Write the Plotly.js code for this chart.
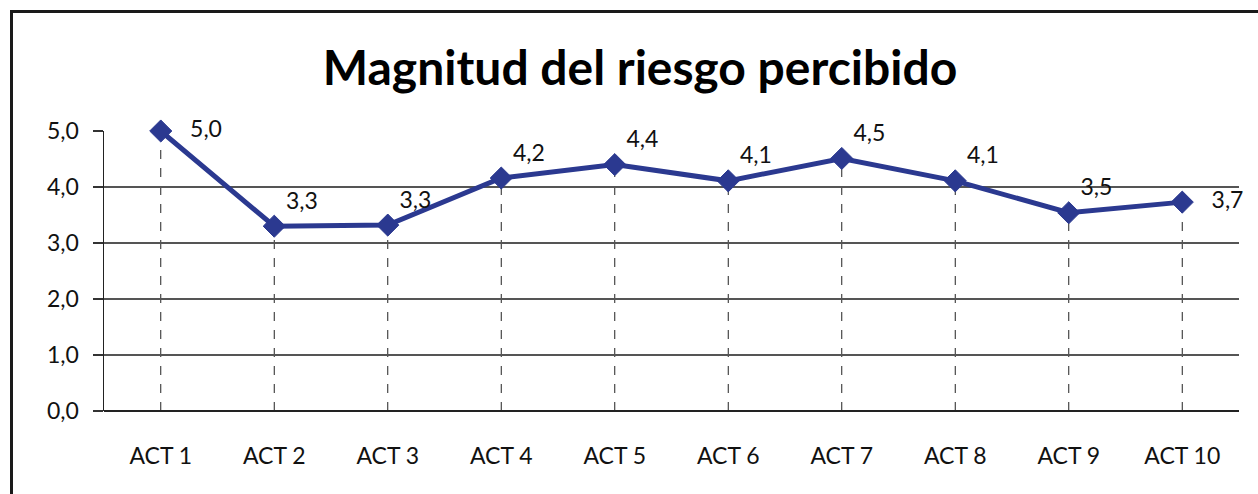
<!DOCTYPE html>
<html>
<head>
<meta charset="utf-8">
<script src="https://cdn.plot.ly/plotly-3.0.1.min.js"></script>
<style>
  html, body { margin:0; padding:0; background:#fff; }
  #wrap { position:relative; width:1258px; height:494px; overflow:hidden; }
  #chart { position:absolute; left:0; top:0; width:1258px; height:494px; }
  #frame { position:absolute; left:10px; top:10px; width:1300px; height:600px;
           border-left:3px solid #1a1a1a; border-top:3px solid #1a1a1a; pointer-events:none; }
</style>
</head>
<body>
<div id="wrap"><div id="chart"></div><div id="frame"></div></div>
<script>
const chartTitle = "Magnitud del riesgo percibido";
const categories = ["ACT 1","ACT 2","ACT 3","ACT 4","ACT 5","ACT 6","ACT 7","ACT 8","ACT 9","ACT 10"];
const values = [5.0, 3.3, 3.32, 4.16, 4.4, 4.11, 4.51, 4.11, 3.54, 3.73];
const labelPositions = ["middle right","top right","top right","top right","top right","top right","top right","top right","top right","middle right"];
const yTicks = [0, 1, 2, 3, 4, 5];

const FONT = "Lato, 'Open Sans', sans-serif";
const navy = "#2B3990";

const dropLines = categories.map((c, i) => ({
  type: "line", xref: "x", yref: "y",
  x0: c, x1: c, y0: 0, y1: values[i],
  line: { color: "#222", width: 1, dash: "dash" }, layer: "below"
}));

const labelTemplates = labelPositions.map(p => p === "middle right" ? "   %{y:.1f}" : "%{y:.1f}");

const trace = {
  type: "scatter", mode: "lines+markers+text",
  x: categories, y: values,
  line: { color: navy, width: 5 },
  marker: { symbol: "diamond", size: 17, color: navy, line: { color: navy, width: 1 } },
  texttemplate: labelTemplates,
  textposition: labelPositions,
  textfont: { family: FONT, size: 23, color: "#111" },
  cliponaxis: false,
  hoverinfo: "skip"
};

const layout = {
  width: 1258, height: 494,
  paper_bgcolor: "rgba(0,0,0,0)", plot_bgcolor: "#fff",
  separators: ",.",
  margin: { l: 104, r: 19, t: 131, b: 83 },
  showlegend: false,
  title: { text: "<b>" + chartTitle + "</b>", font: { family: FONT, size: 48, color: "#000" },
           x: 640 / 1258, xref: "container", xanchor: "center", y: 0.862, yanchor: "middle" },
  xaxis: {
    type: "category", categoryorder: "array", categoryarray: categories,
    range: [-0.5, categories.length - 0.5],
    showgrid: false, zeroline: false,
    showline: false, ticks: "",
    tickfont: { family: FONT, size: 23, color: "#111" },
    ticklabelstandoff: 29, fixedrange: true
  },
  yaxis: {
    range: [0, 5], tickvals: yTicks, tickformat: ".1f",
    showgrid: true, gridcolor: "#555", gridwidth: 1.2,
    zeroline: true, zerolinecolor: "#222", zerolinewidth: 1.5,
    showline: true, linecolor: "#222", linewidth: 1.5,
    ticks: "outside", ticklen: 10, tickcolor: "#333", tickwidth: 1.2,
    tickfont: { family: FONT, size: 23, color: "#111" },
    ticklabelstandoff: 9, fixedrange: true
  },
  shapes: dropLines
};

Plotly.newPlot("chart", [trace], layout, { staticPlot: true, displayModeBar: false });
</script>
</body>
</html>
